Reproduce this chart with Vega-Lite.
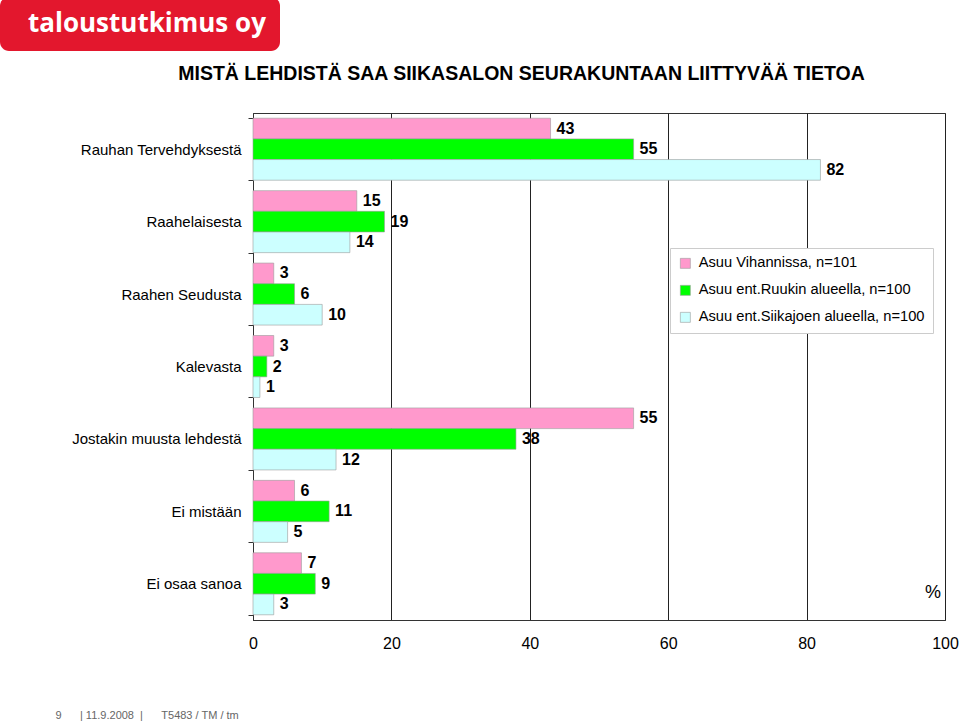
{
  "$schema": "https://vega.github.io/schema/vega-lite/v6.json",
  "autosize": {"type": "none"},
  "padding": {"left": 253, "top": 113, "right": 15, "bottom": 107},
  "width": 692,
  "height": 507,
  "background": "white",
  "config": {"font": "Liberation Sans"},
  "view": {"stroke": "#333", "strokeWidth": 1},
  "data": {"values": [
    {"cat": "Rauhan Tervehdyksestä", "series": "Asuu Vihannissa, n=101", "value": 43},
    {"cat": "Rauhan Tervehdyksestä", "series": "Asuu ent.Ruukin alueella, n=100", "value": 55},
    {"cat": "Rauhan Tervehdyksestä", "series": "Asuu ent.Siikajoen alueella, n=100", "value": 82},
    {"cat": "Raahelaisesta", "series": "Asuu Vihannissa, n=101", "value": 15},
    {"cat": "Raahelaisesta", "series": "Asuu ent.Ruukin alueella, n=100", "value": 19},
    {"cat": "Raahelaisesta", "series": "Asuu ent.Siikajoen alueella, n=100", "value": 14},
    {"cat": "Raahen Seudusta", "series": "Asuu Vihannissa, n=101", "value": 3},
    {"cat": "Raahen Seudusta", "series": "Asuu ent.Ruukin alueella, n=100", "value": 6},
    {"cat": "Raahen Seudusta", "series": "Asuu ent.Siikajoen alueella, n=100", "value": 10},
    {"cat": "Kalevasta", "series": "Asuu Vihannissa, n=101", "value": 3},
    {"cat": "Kalevasta", "series": "Asuu ent.Ruukin alueella, n=100", "value": 2},
    {"cat": "Kalevasta", "series": "Asuu ent.Siikajoen alueella, n=100", "value": 1},
    {"cat": "Jostakin muusta lehdestä", "series": "Asuu Vihannissa, n=101", "value": 55},
    {"cat": "Jostakin muusta lehdestä", "series": "Asuu ent.Ruukin alueella, n=100", "value": 38},
    {"cat": "Jostakin muusta lehdestä", "series": "Asuu ent.Siikajoen alueella, n=100", "value": 12},
    {"cat": "Ei mistään", "series": "Asuu Vihannissa, n=101", "value": 6},
    {"cat": "Ei mistään", "series": "Asuu ent.Ruukin alueella, n=100", "value": 11},
    {"cat": "Ei mistään", "series": "Asuu ent.Siikajoen alueella, n=100", "value": 5},
    {"cat": "Ei osaa sanoa", "series": "Asuu Vihannissa, n=101", "value": 7},
    {"cat": "Ei osaa sanoa", "series": "Asuu ent.Ruukin alueella, n=100", "value": 9},
    {"cat": "Ei osaa sanoa", "series": "Asuu ent.Siikajoen alueella, n=100", "value": 3}
  ]},
  "encoding": {
    "y": {"field": "cat", "type": "nominal", "sort": null,
      "scale": {"paddingInner": 0.144, "paddingOuter": 0.072},
      "axis": {"labelFontSize": 15, "labelColor": "#000", "labelPadding": 7, "tickSize": 5, "tickColor": "#333", "tickBand": "extent", "domainColor": "#333", "labelFont": "Liberation Sans", "labelLimit": 300,
        "title": "MISTÄ LEHDISTÄ SAA SIIKASALON SEURAKUNTAAN LIITTYVÄÄ TIETOA", "titleAngle": 0, "titleX": 268, "titleY": -40, "titleAlign": "center", "titleBaseline": "middle", "titleFontSize": 19.5, "titleFont": "Liberation Sans", "titleFontWeight": "bold", "titleColor": "#000"}},
    "x": {"type": "quantitative",
      "scale": {"domain": [0, 100], "nice": false},
      "axis": {"values": [0, 20, 40, 60, 80, 100], "grid": true, "gridColor": "#222", "gridOpacity": 1, "gridWidth": 1, "ticks": false, "labelFontSize": 16, "labelColor": "#000", "labelPadding": 15, "domainColor": "#333", "labelFont": "Liberation Sans", "labelFlush": false,
        "title": "9\u00a0\u00a0\u00a0\u00a0\u00a0\u00a0|\u00a011.9.2008\u00a0\u00a0|\u00a0\u00a0\u00a0\u00a0\u00a0\u00a0T5483 / TM / tm",
        "titleX": -198, "titleY": 95, "titleAlign": "left", "titleBaseline": "middle", "titleFontSize": 11, "titleColor": "#666", "titleFontWeight": "normal", "titleFont": "Liberation Sans"}}
  },
  "layer": [
    {
      "mark": {"type": "bar", "stroke": "#9a9a9a", "strokeWidth": 0.6},
      "encoding": {
        "x": {"field": "value", "type": "quantitative"},
        "yOffset": {"field": "series", "type": "nominal", "sort": null, "scale": {"paddingInner": 0, "paddingOuter": 0}},
        "color": {"field": "series", "type": "nominal", "sort": null,
          "scale": {"domain": ["Asuu Vihannissa, n=101", "Asuu ent.Ruukin alueella, n=100", "Asuu ent.Siikajoen alueella, n=100"], "range": ["#ff99cc", "#00ff00", "#ccffff"]},
          "legend": {"title": null, "orient": "none", "legendX": 417, "legendY": 135, "fillColor": "white", "strokeColor": "#cccccc", "padding": 8, "symbolType": "square", "symbolSize": 100, "symbolStrokeColor": "#999", "symbolStrokeWidth": 0.6, "labelFontSize": 14.7, "labelColor": "#000", "labelFont": "Liberation Sans", "labelLimit": 400, "rowPadding": 11, "labelOffset": 6}}
      }
    },
    {
      "mark": {"type": "text", "align": "left", "baseline": "middle", "dx": 6, "fontSize": 16, "fontWeight": "bold", "color": "#000"},
      "encoding": {
        "x": {"field": "value", "type": "quantitative"},
        "yOffset": {"field": "series", "type": "nominal", "sort": null},
        "text": {"field": "value", "type": "quantitative"}
      }
    },
    {
      "data": {"values": [{"s": "%"}]},
      "mark": {"type": "text", "align": "right", "baseline": "middle", "dx": -4, "dy": 9, "fontSize": 18, "color": "#000"},
      "encoding": {
        "x": {"datum": 100, "type": "quantitative"},
        "y": {"datum": "Ei osaa sanoa", "type": "nominal"},
        "text": {"field": "s"}
      }
    },
    {
      "data": {"values": [{"brand": "taloustutkimus oy\u00a0\u00a0\u00a0\u00a0\u00a0"}]},
      "mark": {"type": "point", "opacity": 0},
      "encoding": {
        "x": {"datum": 0, "type": "quantitative"},
        "y": {"datum": "Ei osaa sanoa", "type": "nominal"},
        "shape": {"field": "brand", "type": "nominal", "scale": {"range": ["square"]},
          "legend": {"title": null, "orient": "none", "legendX": -253, "legendY": -116, "fillColor": "#e3172d", "strokeColor": null, "cornerRadius": 9, "padding": 14, "symbolSize": 4, "symbolOpacity": 0, "symbolStrokeWidth": 0, "labelOffset": -12, "labelFont": "Open Sans", "labelFontSize": 26, "labelFontWeight": "bold", "labelColor": "white", "labelLimit": 400}}
      }
    }
  ]
}
